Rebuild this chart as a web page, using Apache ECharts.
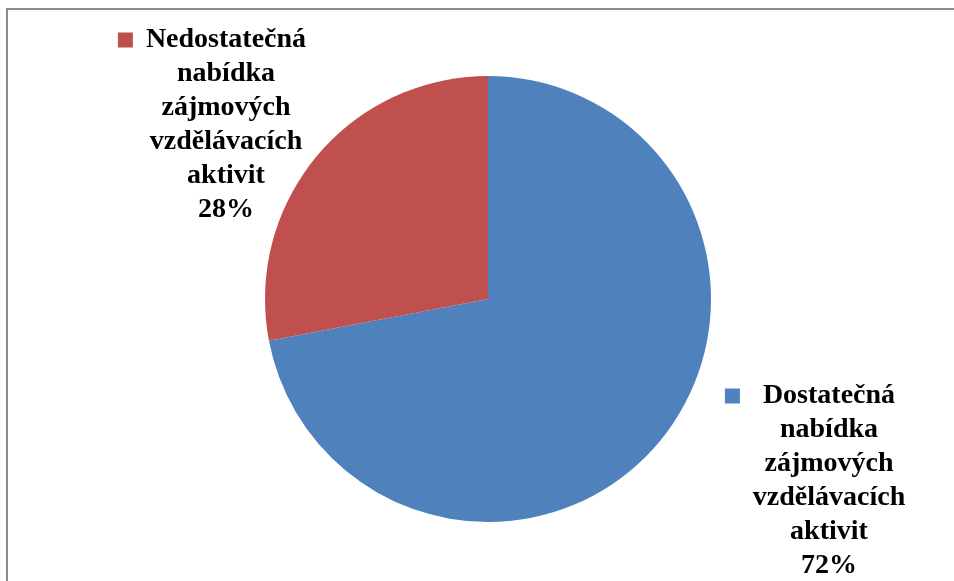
<!DOCTYPE html>
<html>
<head>
<meta charset="utf-8">
<title>Nabídka zájmových vzdělávacích aktivit</title>
<script type="text/javascript" src="https://cdn.jsdelivr.net/npm/echarts@6/dist/echarts.min.js"></script>
<style type="text/css">
html, body { margin: 0; padding: 0; background: #fff; }
#main { width: 954px; height: 581px; }
</style>
</head>
<body>
<div id="main"></div>
<script type="text/javascript">
// data
var categories = ['Dostatečná nabídka zájmových vzdělávacích aktivit', 'Nedostatečná nabídka zájmových vzdělávacích aktivit'];
var values = [72, 28];
var colors = ['#4F81BD', '#C0504D'];

// label placement (centre of each label block) and gap after the marker square
var labelPos = [[829, 481], [226, 125]];
var markerGap = [23, 13];

var chart = echarts.init(document.getElementById('main'));

var font = {
    fontFamily: 'Liberation Serif',
    fontWeight: 'bold',
    fontSize: 28,
    lineHeight: 34,
    color: '#000'
};

var rich = { t: font };
for (var i = 0; i < colors.length; i++) {
    rich['sq' + i] = { width: 15, height: 15, backgroundColor: colors[i], lineHeight: 34 };
    rich['g' + i] = { width: markerGap[i], lineHeight: 34 };
    rich['p' + i] = { width: 15 + markerGap[i], lineHeight: 34 };
}

var pieData = [];
for (var i = 0; i < values.length; i++) {
    pieData.push({ name: categories[i], value: values[i], itemStyle: { color: colors[i] } });
}

var option = {
    animation: false,
    graphic: [{
        type: 'rect',
        shape: { x: 7, y: 9, width: 1000, height: 1000 },
        style: { fill: 'none', stroke: '#8c8c8c', lineWidth: 2 },
        silent: true
    }],
    series: [{
        type: 'pie',
        center: [488, 299],
        radius: 223,
        startAngle: 90,
        clockwise: true,
        avoidLabelOverlap: false,
        data: pieData,
        labelLine: { show: false },
        label: {
            show: true,
            position: 'outside',
            align: 'center',
            rich: rich,
            formatter: function (p) {
                var words = p.name.split(' ');
                var k = p.dataIndex;
                var lines = ['{sq' + k + '|}{g' + k + '|}{t|' + words[0] + '}{p' + k + '|}'];
                for (var j = 1; j < words.length; j++) {
                    lines.push('{t|' + words[j] + '}');
                }
                lines.push('{t|' + p.value + '%}');
                return lines.join('\n');
            }
        },
        labelLayout: function (params) {
            var pos = labelPos[params.dataIndex];
            return { x: pos[0], y: pos[1], align: 'center', verticalAlign: 'middle' };
        }
    }]
};

chart.setOption(option);
</script>
</body>
</html>
